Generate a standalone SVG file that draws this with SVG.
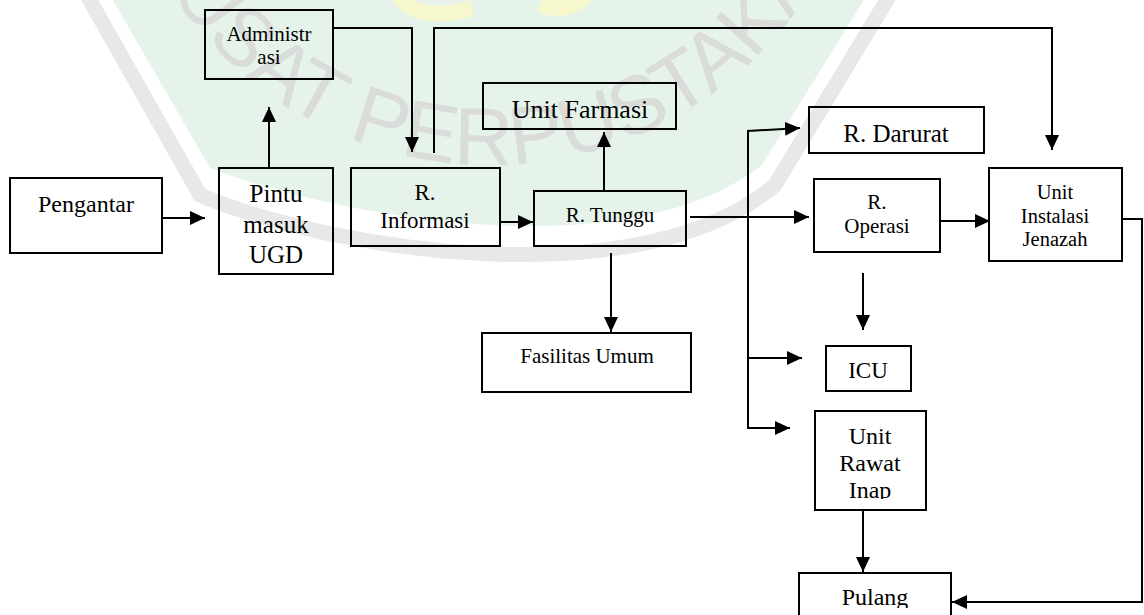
<svg xmlns="http://www.w3.org/2000/svg" width="1144" height="615" viewBox="0 0 1144 615">
  <style>
    .box { fill: none; stroke: #000; stroke-width: 2; }
    .c { fill: none; stroke: #000; stroke-width: 2; }
    .t { font-family: "Liberation Serif", "Times New Roman", serif; fill: #000; text-anchor: middle; }
  </style>
  <defs>
    <marker id="arrow" viewBox="0 0 15 14" refX="15" refY="7" markerWidth="15" markerHeight="14" markerUnits="userSpaceOnUse" orient="auto">
      <path d="M0,0 L15,7 L0,14 Z" fill="#000"/>
    </marker>
    <path id="wmArc" d="M 110 -215 A 380 380 0 0 0 870 -215"/>
    <clipPath id="clipInap"><rect x="815" y="411" width="111" height="88"/></clipPath>
    <clipPath id="clipPulang"><rect x="799" y="573" width="152" height="35"/></clipPath>
  </defs>

  <rect width="1144" height="615" fill="#fff"/>

  <!-- faint library badge in the background -->
  <g id="watermark">
    <path d="M 107 -10 L 210 168 C 340 218, 630 270, 762 165 L 870 -10 Z" fill="#e5f3ea"/>
    <path d="M 84 -10 L 200 195 C 330 250, 640 300, 775 185 L 893 -10" fill="none" stroke="#e8e8e8" stroke-width="15"/>
    <path d="M 398 -5 Q 418 24 472 8" fill="none" stroke="#f6f7cc" stroke-width="16"/>
    <path d="M 540 4 Q 565 16 588 -6" fill="none" stroke="#f6f7cc" stroke-width="16"/>
    <text font-family="Liberation Sans, Arial, sans-serif" font-size="82" fill="#d9dcd9">
      <textPath href="#wmArc" startOffset="162">PUSAT PERPUSTAKAAN</textPath>
    </text>
  </g>

  <!-- connectors -->
  <g id="connectors">
    <path class="c" d="M 162 218 H 205" marker-end="url(#arrow)"/>
    <path class="c" d="M 269 168 V 107" marker-end="url(#arrow)"/>
    <path class="c" d="M 333 28 H 412 V 152" marker-end="url(#arrow)"/>
    <path class="c" d="M 434 153 V 28 H 1052 V 150" marker-end="url(#arrow)"/>
    <path class="c" d="M 500 222 H 533" marker-end="url(#arrow)"/>
    <path class="c" d="M 604 191 V 132" marker-end="url(#arrow)"/>
    <path class="c" d="M 611 253 V 332" marker-end="url(#arrow)"/>
    <path class="c" d="M 690 217 H 809" marker-end="url(#arrow)"/>
    <path class="c" d="M 748 429 V 131 L 800 128" marker-end="url(#arrow)"/>
    <path class="c" d="M 748 358 H 802" marker-end="url(#arrow)"/>
    <path class="c" d="M 748 428 H 790" marker-end="url(#arrow)"/>
    <path class="c" d="M 863 273 V 330" marker-end="url(#arrow)"/>
    <path class="c" d="M 940 221 H 990" marker-end="url(#arrow)"/>
    <path class="c" d="M 1122 219 H 1142 V 602 H 952" marker-end="url(#arrow)"/>
    <path class="c" d="M 863 510 V 572" marker-end="url(#arrow)"/>
  </g>

  <g id="pengantar">
    <rect class="box" x="10" y="178" width="152" height="75"/>
    <text class="t" x="86" y="212" font-size="24">Pengantar</text>
  </g>

  <g id="pintu-masuk">
    <rect class="box" x="219" y="168" width="114" height="106"/>
    <text class="t" x="276" y="202" font-size="25">Pintu</text>
    <text class="t" x="276" y="233" font-size="25">masuk</text>
    <text class="t" x="276" y="263" font-size="25">UGD</text>
  </g>

  <g id="administrasi">
    <rect class="box" x="205" y="10" width="128" height="69"/>
    <text class="t" x="269" y="41" font-size="21">Administr</text>
    <text class="t" x="269" y="64" font-size="21">asi</text>
  </g>

  <g id="r-informasi">
    <rect class="box" x="351" y="168" width="149" height="78"/>
    <text class="t" x="425" y="200" font-size="23">R.</text>
    <text class="t" x="425" y="228" font-size="23">Informasi</text>
  </g>

  <g id="r-tunggu">
    <rect class="box" x="534" y="191" width="152" height="55"/>
    <text class="t" x="610" y="222" font-size="21">R. Tunggu</text>
  </g>

  <g id="unit-farmasi">
    <rect class="box" x="483" y="83" width="193" height="46"/>
    <text class="t" x="580" y="118" font-size="26">Unit Farmasi</text>
  </g>

  <g id="fasilitas-umum">
    <rect class="box" x="482" y="333" width="209" height="59"/>
    <text class="t" x="587" y="363" font-size="21">Fasilitas Umum</text>
  </g>

  <g id="r-darurat">
    <rect class="box" x="809" y="107" width="175" height="46"/>
    <text class="t" x="896" y="142" font-size="25">R. Darurat</text>
  </g>

  <g id="r-operasi">
    <rect class="box" x="814" y="179" width="126" height="73"/>
    <text class="t" x="877" y="209" font-size="21">R.</text>
    <text class="t" x="877" y="233" font-size="21">Operasi</text>
  </g>

  <g id="instalasi-jenazah">
    <rect class="box" x="989" y="168" width="133" height="93"/>
    <text class="t" x="1055" y="199" font-size="20.5">Unit</text>
    <text class="t" x="1055" y="223" font-size="20.5">Instalasi</text>
    <text class="t" x="1055" y="246" font-size="20.5">Jenazah</text>
  </g>

  <g id="icu">
    <rect class="box" x="826" y="346" width="85" height="45"/>
    <text class="t" x="868" y="378" font-size="23">ICU</text>
  </g>

  <g id="rawat-inap">
    <rect class="box" x="815" y="411" width="111" height="99"/>
    <g clip-path="url(#clipInap)">
      <text class="t" x="870" y="444" font-size="24">Unit</text>
      <text class="t" x="870" y="471" font-size="24">Rawat</text>
      <text class="t" x="870" y="498" font-size="24">Inap</text>
    </g>
  </g>

  <g id="pulang">
    <path class="box" d="M 799 625 V 573 H 951 V 625"/>
    <g clip-path="url(#clipPulang)">
      <text class="t" x="875" y="605" font-size="24">Pulang</text>
    </g>
  </g>
</svg>
